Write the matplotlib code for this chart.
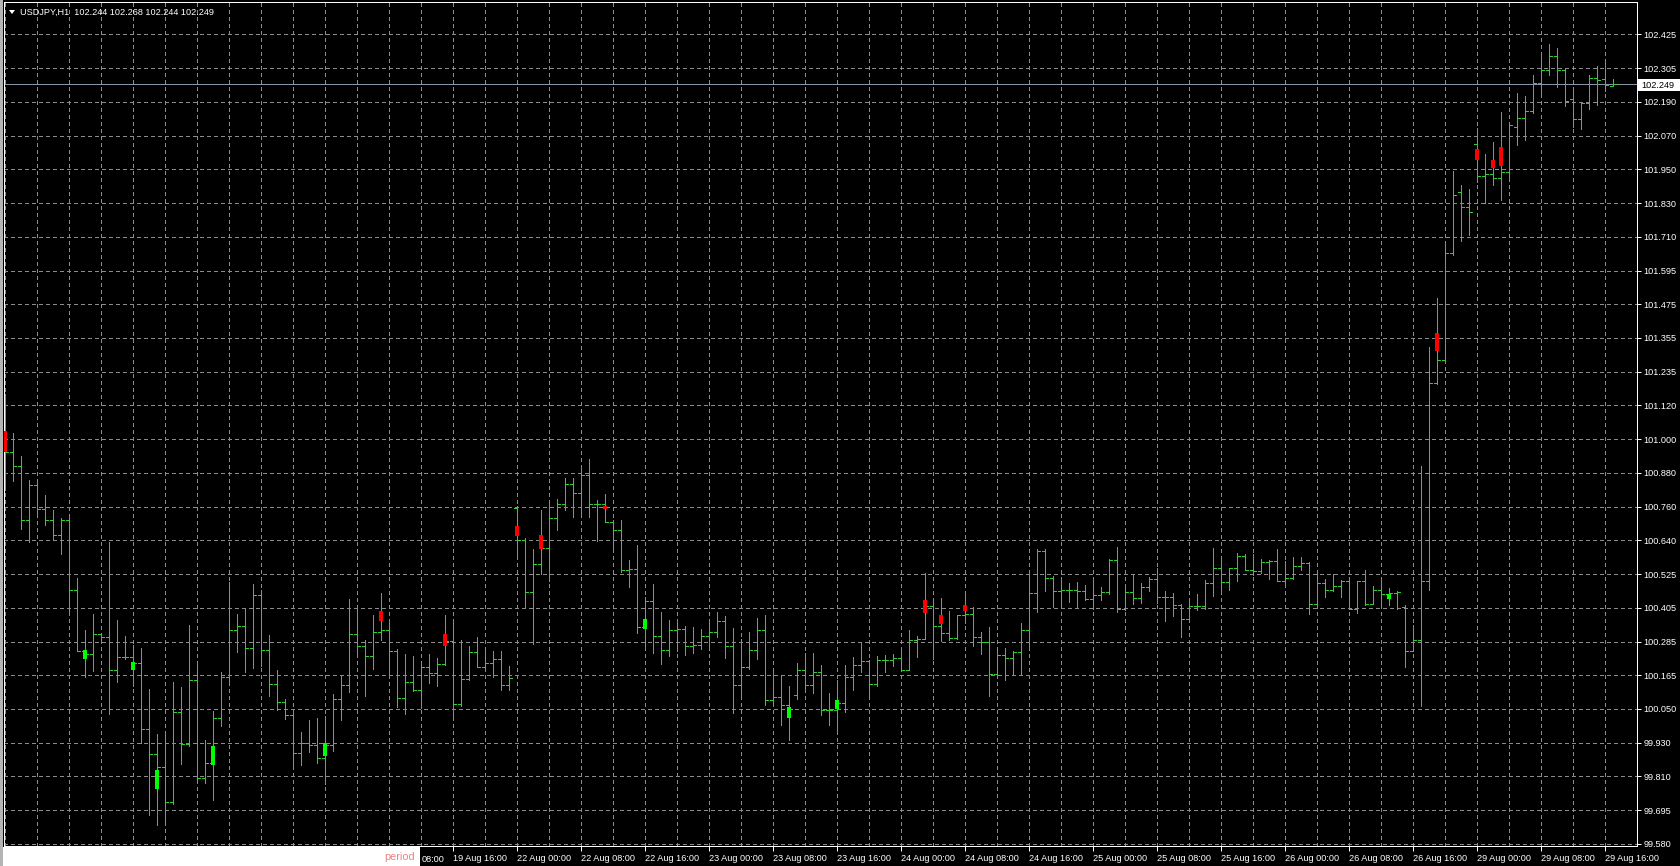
import numpy as np
import matplotlib
matplotlib.use("Agg")
import matplotlib.pyplot as plt
from matplotlib.collections import LineCollection
from matplotlib.patches import Rectangle, Polygon

# ---------------- data ----------------
title_text = "USDJPY,H1  102.244 102.268 102.244 102.249"
current_price = 102.249

opens = [101.010, 100.957, 100.907, 100.717, 100.840, 100.758, 100.717, 100.667, 100.717, 100.471,
         100.258, 100.248, 100.316, 100.307, 100.192, 100.237, 100.237, 100.216, 99.985, 99.897,
         99.850, 99.727, 100.043, 99.932, 100.157, 99.813, 99.864, 100.024, 100.166, 100.333,
         100.346, 100.270, 100.456, 100.263, 100.141, 100.079, 100.032, 99.899, 99.933, 99.929,
         99.882, 99.929, 100.090, 100.138, 100.318, 100.275, 100.240, 100.324, 100.333, 100.257,
         100.093, 100.150, 100.120, 100.202, 100.181, 100.213, 100.292, 100.070, 100.160, 100.254,
         100.202, 100.216, 100.230, 100.140, 100.761, 100.647, 100.465, 100.562, 100.620, 100.726,
         100.775, 100.845, 100.814, 100.875, 100.773, 100.773, 100.711, 100.682, 100.542, 100.546,
         100.342, 100.435, 100.312, 100.263, 100.333, 100.335, 100.274, 100.280, 100.312, 100.324,
         100.362, 100.274, 100.140, 100.202, 100.260, 100.333, 100.087, 100.096, 100.069, 100.105,
         100.192, 100.140, 100.183, 100.052, 100.050, 100.075, 100.167, 100.208, 100.222, 100.142,
         100.225, 100.228, 100.233, 100.192, 100.298, 100.301, 100.415, 100.345, 100.322, 100.305,
         100.383, 100.389, 100.307, 100.290, 100.178, 100.243, 100.233, 100.255, 100.333, 100.463,
         100.609, 100.515, 100.469, 100.471, 100.471, 100.468, 100.442, 100.456, 100.465, 100.579,
         100.407, 100.465, 100.444, 100.483, 100.510, 100.448, 100.448, 100.421, 100.372, 100.416,
         100.416, 100.498, 100.550, 100.501, 100.550, 100.592, 100.542, 100.538, 100.572, 100.576,
         100.505, 100.514, 100.555, 100.568, 100.424, 100.496, 100.474, 100.485, 100.505, 100.407,
         100.505, 100.424, 100.474, 100.458, 100.461, 100.411, 100.259, 100.297, 100.505, 101.199,
         101.280, 101.655, 101.871, 101.818, 102.039, 101.929, 101.935, 101.920, 101.940, 102.101,
         102.130, 102.157, 102.253, 102.300, 102.349, 102.300, 102.197, 102.127, 102.183, 102.271,
         102.267, 102.244]

highs = [101.162, 101.024, 100.945, 100.860, 100.848, 100.807, 100.754, 100.725, 100.740, 100.516,
         100.330, 100.389, 100.321, 100.642, 100.366, 100.309, 100.278, 100.270, 100.125, 99.965,
         99.965, 100.149, 100.131, 100.350, 100.211, 99.944, 100.046, 100.184, 100.500, 100.389,
         100.407, 100.492, 100.473, 100.313, 100.192, 100.090, 100.040, 99.974, 100.015, 100.023,
         100.029, 100.108, 100.175, 100.439, 100.406, 100.298, 100.386, 100.462, 100.363, 100.265,
         100.249, 100.242, 100.216, 100.246, 100.234, 100.386, 100.363, 100.298, 100.277, 100.308,
         100.265, 100.257, 100.257, 100.205, 100.769, 100.655, 100.617, 100.755, 100.784, 100.793,
         100.866, 100.866, 100.913, 100.934, 100.788, 100.811, 100.720, 100.720, 100.577, 100.632,
         100.448, 100.495, 100.394, 100.368, 100.368, 100.347, 100.342, 100.335, 100.359, 100.394,
         100.380, 100.339, 100.300, 100.324, 100.374, 100.386, 100.195, 100.175, 100.136, 100.216,
         100.251, 100.251, 100.207, 100.110, 100.155, 100.207, 100.237, 100.289, 100.225, 100.239,
         100.245, 100.249, 100.257, 100.331, 100.310, 100.532, 100.431, 100.445, 100.399, 100.386,
         100.456, 100.413, 100.325, 100.342, 100.269, 100.269, 100.257, 100.356, 100.539, 100.615,
         100.615, 100.520, 100.506, 100.498, 100.501, 100.491, 100.512, 100.483, 100.580, 100.624,
         100.483, 100.530, 100.498, 100.518, 100.550, 100.468, 100.463, 100.424, 100.444, 100.460,
         100.506, 100.620, 100.577, 100.550, 100.604, 100.600, 100.600, 100.582, 100.579, 100.616,
         100.576, 100.590, 100.590, 100.570, 100.532, 100.512, 100.528, 100.509, 100.509, 100.505,
         100.541, 100.485, 100.512, 100.478, 100.469, 100.420, 100.351, 100.908, 101.328, 101.498,
         101.690, 101.945, 101.897, 101.881, 102.095, 102.005, 102.046, 102.154, 102.109, 102.220,
         102.209, 102.282, 102.353, 102.391, 102.376, 102.305, 102.239, 102.185, 102.282, 102.314,
         102.323, 102.268]

lows = [100.825, 100.855, 100.688, 100.642, 100.729, 100.702, 100.653, 100.600, 100.397, 100.258,
        100.166, 100.188, 100.301, 100.038, 100.149, 100.231, 100.134, 99.934, 99.680, 99.645,
        99.657, 99.721, 99.862, 99.924, 99.809, 99.794, 99.735, 99.994, 100.137, 100.254,
        100.184, 100.199, 100.204, 100.100, 100.049, 100.020, 99.850, 99.859, 99.902, 99.865,
        99.789, 99.906, 100.015, 100.113, 100.242, 100.101, 100.196, 100.295, 100.167, 100.062,
        100.038, 100.117, 100.058, 100.144, 100.134, 100.210, 100.019, 100.066, 100.155, 100.202,
        100.191, 100.167, 100.122, 100.122, 100.589, 100.409, 100.283, 100.529, 100.503, 100.682,
        100.753, 100.728, 100.735, 100.728, 100.646, 100.711, 100.611, 100.535, 100.482, 100.321,
        100.269, 100.251, 100.214, 100.239, 100.257, 100.245, 100.251, 100.265, 100.269, 100.307,
        100.233, 100.040, 100.105, 100.195, 100.230, 100.069, 100.064, 99.997, 99.944, 100.089,
        100.116, 100.110, 100.034, 99.999, 99.978, 100.043, 100.122, 100.183, 100.105, 100.136,
        100.183, 100.204, 100.192, 100.192, 100.237, 100.300, 100.230, 100.292, 100.296, 100.300,
        100.358, 100.276, 100.249, 100.100, 100.167, 100.155, 100.176, 100.175, 100.272, 100.395,
        100.468, 100.413, 100.424, 100.430, 100.413, 100.436, 100.407, 100.438, 100.460, 100.395,
        100.401, 100.424, 100.428, 100.468, 100.428, 100.362, 100.381, 100.307, 100.362, 100.401,
        100.407, 100.451, 100.465, 100.471, 100.503, 100.542, 100.526, 100.532, 100.512, 100.505,
        100.487, 100.510, 100.541, 100.388, 100.415, 100.447, 100.469, 100.447, 100.404, 100.391,
        100.420, 100.424, 100.418, 100.420, 100.404, 100.203, 100.257, 100.066, 100.471, 101.196,
        101.280, 101.650, 101.700, 101.720, 101.908, 101.832, 101.894, 101.842, 101.912, 102.035,
        102.054, 102.150, 102.206, 102.282, 102.241, 102.175, 102.101, 102.092, 102.163, 102.177,
        102.227, 102.244]

closes = [100.957, 100.907, 100.717, 100.840, 100.758, 100.717, 100.667, 100.717, 100.471, 100.258,
          100.248, 100.316, 100.307, 100.192, 100.237, 100.237, 100.216, 99.985, 99.897, 99.850,
          99.727, 100.043, 99.932, 100.157, 99.813, 99.864, 100.024, 100.166, 100.333, 100.346,
          100.270, 100.456, 100.263, 100.141, 100.079, 100.032, 99.899, 99.933, 99.929, 99.882,
          99.929, 100.090, 100.138, 100.318, 100.275, 100.240, 100.324, 100.333, 100.257, 100.093,
          100.150, 100.120, 100.202, 100.181, 100.213, 100.292, 100.070, 100.160, 100.254, 100.202,
          100.216, 100.230, 100.140, 100.164, 100.647, 100.465, 100.562, 100.620, 100.726, 100.775,
          100.845, 100.814, 100.875, 100.773, 100.773, 100.711, 100.682, 100.542, 100.546, 100.342,
          100.435, 100.312, 100.263, 100.333, 100.335, 100.274, 100.280, 100.312, 100.324, 100.362,
          100.274, 100.140, 100.202, 100.260, 100.333, 100.087, 100.096, 100.069, 100.054, 100.192,
          100.140, 100.183, 100.052, 100.050, 100.075, 100.167, 100.208, 100.222, 100.142, 100.225,
          100.228, 100.233, 100.192, 100.298, 100.301, 100.415, 100.345, 100.322, 100.305, 100.383,
          100.389, 100.307, 100.290, 100.178, 100.243, 100.233, 100.255, 100.333, 100.463, 100.609,
          100.515, 100.469, 100.471, 100.471, 100.468, 100.442, 100.456, 100.465, 100.579, 100.407,
          100.465, 100.444, 100.483, 100.510, 100.448, 100.448, 100.421, 100.372, 100.416, 100.416,
          100.498, 100.550, 100.501, 100.550, 100.592, 100.542, 100.538, 100.572, 100.576, 100.505,
          100.514, 100.555, 100.568, 100.424, 100.496, 100.474, 100.485, 100.505, 100.407, 100.505,
          100.424, 100.474, 100.458, 100.461, 100.465, 100.259, 100.297, 100.505, 101.199, 101.280,
          101.655, 101.861, 101.818, 101.801, 101.926, 101.935, 101.920, 101.940, 102.105, 102.130,
          102.157, 102.253, 102.300, 102.349, 102.300, 102.192, 102.127, 102.183, 102.271, 102.263,
          102.247, 102.249]

# marker boxes drawn on some bars (bar index, top price, bottom price, colour)
box_bars = [0, 10, 16, 19, 26, 40, 47, 55, 64, 67, 75, 80, 98, 104, 115, 117, 120, 173, 179, 184, 186, 187]
box_tops = [101.031, 100.263, 100.221, 99.838, 99.923, 99.935, 100.398, 100.316, 100.699, 100.667, 100.769,
            100.371, 100.060, 100.087, 100.438, 100.386, 100.421, 100.458, 101.374, 102.023, 101.984, 102.029]
box_bottoms = [100.957, 100.231, 100.190, 99.774, 99.858, 99.888, 100.363, 100.277, 100.661, 100.617, 100.758,
               100.335, 100.023, 100.054, 100.392, 100.354, 100.397, 100.442, 101.313, 101.982, 101.955, 101.964]
box_colors = ["red", "lime", "lime", "lime", "lime", "lime", "red", "red", "red", "red", "red",
              "lime", "lime", "lime", "red", "red", "red", "lime", "red", "red", "red", "red"]

price_tick_labels = ["99.580", "99.695", "99.810", "99.930", "100.050", "100.165", "100.285", "100.405",
                     "100.525", "100.640", "100.760", "100.880", "101.000", "101.120", "101.235", "101.355",
                     "101.475", "101.595", "101.710", "101.830", "101.950", "102.070", "102.190", "102.305",
                     "102.425"]

# first label is mostly hidden behind the "period" box: only "08:00" shows
first_time_label = "08:00"
time_labels = ["", "19 Aug 16:00", "22 Aug 00:00", "22 Aug 08:00", "22 Aug 16:00",
               "23 Aug 00:00", "23 Aug 08:00", "23 Aug 16:00", "24 Aug 00:00", "24 Aug 08:00",
               "24 Aug 16:00", "25 Aug 00:00", "25 Aug 08:00", "25 Aug 16:00", "26 Aug 00:00",
               "26 Aug 08:00", "26 Aug 16:00", "29 Aug 00:00", "29 Aug 08:00", "29 Aug 16:00"]
time_label_bars = [48, 56, 64, 72, 80, 88, 96, 104, 112, 120, 128, 136, 144, 152, 160, 168, 176, 184, 192, 200]

# ---------------- layout / style ----------------
FONT = "Liberation Sans"
FS = 6.6
W, H = 1680, 866
BAR_COL = "#32CD32"
GRID_COL = "#8C8C8C"

fig = plt.figure(figsize=(W / 100, H / 100), dpi=100, facecolor="black")

def fx(x):
    return x / W

def fy(y):
    return 1 - y / H

# plot area in pixels
PX_L, PX_R, PX_T, PX_B = 4, 1637, 2, 846
ax = fig.add_axes([fx(PX_L), fy(PX_B), (PX_R - PX_L) / W, (PX_B - PX_T) / H])
ax.set_facecolor("black")

# x: bar i centred at pixel 5 + 8 i
ax.set_xlim((PX_L - 5) / 8, (PX_R - 5) / 8)

# y: grid of 25 evenly spaced lines, 99.580 at pixel 843.9, 102.425 at pixel 34.4
tick_vals = np.linspace(float(price_tick_labels[0]), float(price_tick_labels[-1]), len(price_tick_labels))
y_lo_px, y_hi_px = 843.9, 34.4
ppp = (y_lo_px - y_hi_px) / (tick_vals[-1] - tick_vals[0])
ax.set_ylim(tick_vals[0] - (PX_B - y_lo_px) / ppp, tick_vals[0] + (y_lo_px - PX_T) / ppp)

lw = 0.72  # 1 pixel

# grid
n = len(opens)
for v in tick_vals:
    ax.axhline(v, color=GRID_COL, lw=lw, ls=(0, (3, 3)), zorder=1, antialiased=False)
for xb in range(0, 205, 4):
    ax.axvline(xb, color=GRID_COL, lw=lw, ls=(0, (3, 3)), zorder=1, antialiased=False)

# current price line
ax.axhline(current_price, color="#8796A6", lw=lw, zorder=2, antialiased=False)

# OHLC bars
xs = np.arange(n)
segs = []
tick = 0.33
for i in range(n):
    segs.append([(xs[i], lows[i]), (xs[i], highs[i])])
    segs.append([(xs[i] - tick, opens[i]), (xs[i], opens[i])])
    segs.append([(xs[i], closes[i]), (xs[i] + tick, closes[i])])
lc = LineCollection(segs, colors=BAR_COL, linewidths=lw, antialiaseds=False, zorder=3)
ax.add_collection(lc)

# marker boxes
for b, t, bt, c in zip(box_bars, box_tops, box_bottoms, box_colors):
    ax.add_patch(Rectangle((b - 0.19, bt), 0.38, t - bt, facecolor=c, edgecolor="none",
                           antialiased=False, zorder=4))

# frame
for s in ax.spines.values():
    s.set_color("white")
    s.set_linewidth(lw)

# y axis on the right
ax.yaxis.tick_right()
ax.set_yticks(tick_vals)
ax.set_yticklabels(price_tick_labels)
ax.tick_params(axis="y", colors="white", length=3.0, width=lw, pad=1.5, labelsize=FS)
for t in ax.get_yticklabels():
    t.set_fontfamily(FONT)

# x axis labels
ax.set_xticks(time_label_bars)
ax.set_xticklabels(time_labels, ha="left")
ax.tick_params(axis="x", colors="white", length=3.6, width=lw, pad=2.2, labelsize=FS)
for t in ax.get_xticklabels():
    t.set_fontfamily(FONT)

# visible tail of the first time label, just right of the "period" box
fig.text(fx(421.5), fy(859.5), first_time_label, color="white", fontsize=FS, family=FONT,
         ha="left", va="center", zorder=11)

# title
fig.patches.append(Polygon([[fx(9), fy(10)], [fx(15), fy(10)], [fx(12), fy(14)]], closed=True,
                           facecolor="white", edgecolor="none", transform=fig.transFigure, zorder=10))
fig.text(fx(20), fy(12.5), title_text, color="white", fontsize=FS, family=FONT, ha="left", va="center",
         zorder=10)

# current price box on the axis
fig.patches.append(Rectangle((fx(1638), fy(91)), (1680 - 1638) / W, 12 / H, facecolor="white",
                             edgecolor="none", transform=fig.transFigure, zorder=10))
fig.text(fx(1641.5), fy(85.5), f"{current_price:.3f}", color="black", fontsize=FS, family=FONT,
         ha="left", va="center", zorder=11)

# white "period" box bottom-left
fig.patches.append(Rectangle((fx(3), 0), (420 - 3) / W, (H - 847) / H, facecolor="white",
                             edgecolor="none", transform=fig.transFigure, zorder=10))
fig.text(fx(415), fy(857), "period", color="#F08080", fontsize=7.8, family=FONT, ha="right",
         va="center", zorder=11)

# left window edge
fig.patches.append(Rectangle((0, 0), 3 / W, 1, facecolor="#B4B4B4", edgecolor="none",
                             transform=fig.transFigure, zorder=10))

fig.savefig("out.png", dpi=100, facecolor="black")
